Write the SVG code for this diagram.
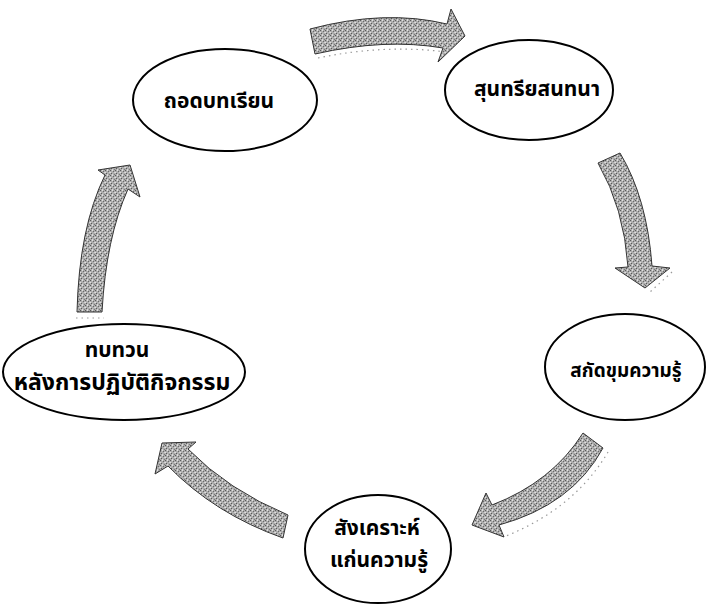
<svg xmlns="http://www.w3.org/2000/svg" width="709" height="606" viewBox="0 0 709 606">
<style>
.node ellipse{fill:#fff;stroke:#000;stroke-width:2}
.node text{font-family:'Noto Sans Thai','Noto Sans','DejaVu Sans','Liberation Serif',sans-serif;font-weight:bold;font-size:21px;fill:#000;text-anchor:middle}
.arrow{fill:url(#dither);stroke:#333;stroke-width:1}
.shadow{fill:none;stroke:#999;stroke-width:1.2;stroke-dasharray:1.5 4}
</style>
<defs>
<pattern id="dither" width="5" height="5" patternUnits="userSpaceOnUse">
<rect width="5" height="5" fill="#acacac"/>
<rect x="0" y="0" width="1" height="1" fill="#5a5a5a"/>
<rect x="3" y="1" width="1" height="1" fill="#6a6a6a"/>
<rect x="1" y="3" width="1" height="1" fill="#5a5a5a"/>
<rect x="4" y="4" width="1" height="1" fill="#7a7a7a"/>
<rect x="2" y="0" width="1" height="1" fill="#e0e0e0"/>
<rect x="0" y="2" width="1" height="1" fill="#e0e0e0"/>
<rect x="4" y="2" width="1" height="1" fill="#d0d0d0"/>
<rect x="2" y="4" width="1" height="1" fill="#d8d8d8"/>
</pattern>
</defs>
<g id="connectors">
<path class="shadow" d="M318,58 Q385,44 446,52"/>
<path class="arrow" d="M310,29 Q385,9 447,24 L451,9 L465,36 L438,62 L443,48 Q385,38 315,54 Z"/>
<path class="shadow" d="M672,272 L650,292"/>
<path class="arrow" d="M598,163 L620,153 Q647,198 652,266 L670,268 L645,288 L615,268 L628,267 Q624,208 598,163 Z"/>
<path class="shadow" d="M608,452 Q575,508 506,536"/>
<path class="arrow" d="M583,433 L603,448 Q572,505 499,525 L504,537 L472,525 L486,493 L492,505 Q552,482 583,433 Z"/>
<path class="arrow" d="M288,515 Q228,490 188,449 L196,442 L162,443 L155,474 L168,466 Q215,514 283,538 Z"/>
<path class="shadow" d="M76,318 L104,318"/>
<path class="arrow" d="M77,312 Q79,228 105,175 L98,170 L130,165 L140,197 L128,189 Q106,238 102,312 Z"/>
</g>
<g id="n1" class="node">
<ellipse cx="225" cy="100" rx="92" ry="51"/>
<text x="219" y="108">ถอดบทเรียน</text>
</g>
<g id="n2" class="node">
<ellipse cx="529" cy="90" rx="84" ry="50"/>
<text x="537" y="96">สุนทรียสนทนา</text>
</g>
<g id="n3" class="node">
<ellipse cx="625" cy="367" rx="80" ry="53"/>
<text x="626" y="377" style="font-size:19px">สกัดขุมความรู้</text>
</g>
<g id="n4" class="node">
<ellipse cx="378" cy="549" rx="73" ry="54"/>
<text x="377" y="535">สังเคราะห์</text>
<text x="379" y="567">แก่นความรู้</text>
</g>
<g id="n5" class="node">
<ellipse cx="124" cy="372" rx="121" ry="48"/>
<text x="117" y="357">ทบทวน</text>
<text x="122" y="390" style="font-size:23px">หลังการปฏิบัติกิจกรรม</text>
</g>
</svg>
